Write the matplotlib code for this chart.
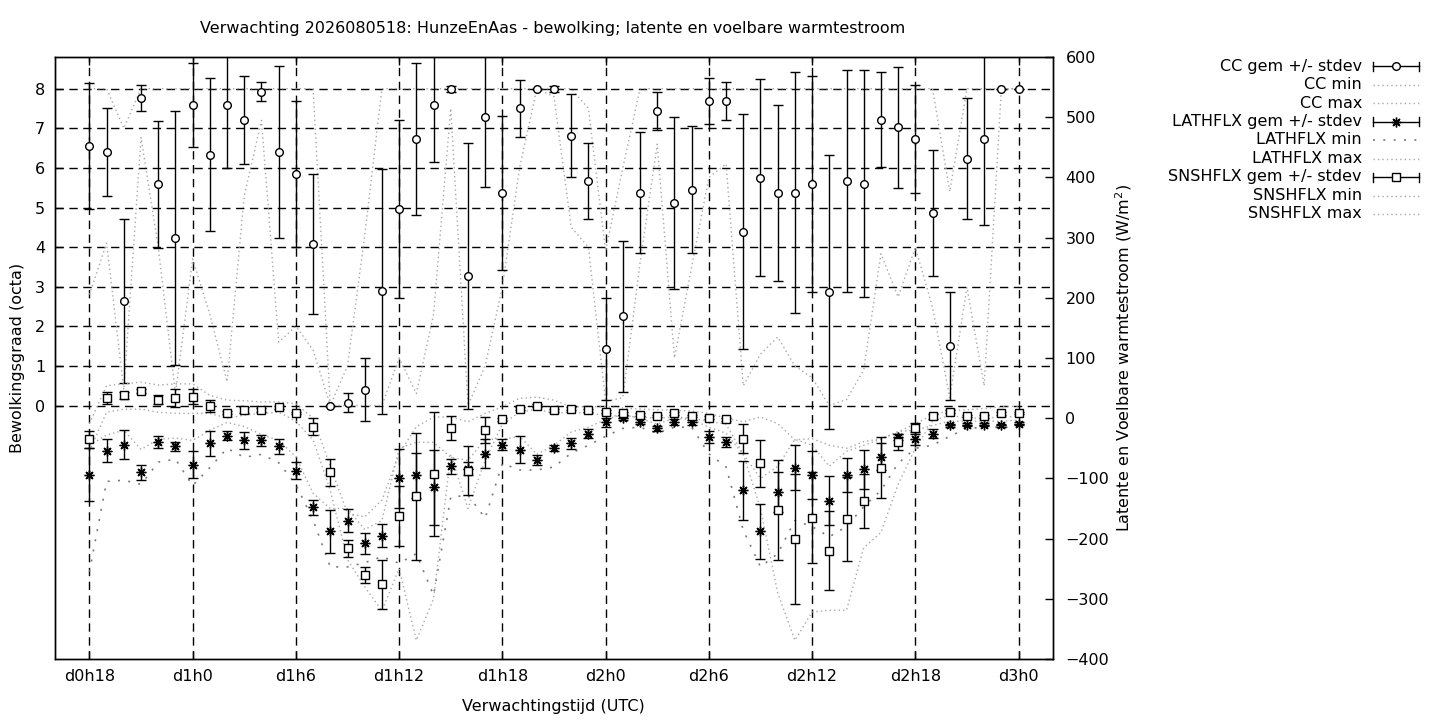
import matplotlib
matplotlib.use("Agg")
import matplotlib.pyplot as plt
from matplotlib.lines import Line2D

plt.rcParams['font.family'] = ['DejaVu Sans']

# ---------------- data ----------------
hours = list(range(18, 73))
xtick_pos = [18, 24, 30, 36, 42, 48, 54, 60, 66, 72]
xtick_labels = ["d0h18", "d1h0", "d1h6", "d1h12", "d1h18",
                "d2h0", "d2h6", "d2h12", "d2h18", "d3h0"]
cc_ticks = [0, 1, 2, 3, 4, 5, 6, 7, 8]
flux_ticks = [-400, -300, -200, -100, 0, 100, 200, 300, 400, 500, 600]

cc_mean = [6.55, 6.40, 2.64, 7.76, 5.59, 4.23,
           7.59, 6.33, 7.59, 7.21, 7.92, 6.40, 5.85, 4.08, 0.00, 0.07, 0.40, 2.88,
           4.96, 6.73, 7.59, 8.00, 3.27, 7.29,
           5.37, 7.51, 8.00, 8.00, 6.81, 5.67,
           1.43, 2.25, 5.37, 7.44, 5.12, 5.45,
           7.69, 7.69, 4.39, 5.75, 5.37, 5.37,
           5.60, 2.87, 5.67, 5.60, 7.21, 7.03,
           6.73, 4.86, 1.51, 6.23, 6.73, 8.00,
           8.00]
cc_std = [1.60, 1.12, 2.06, 0.33, 1.60, 3.20,
          1.05, 1.93, 1.59, 1.12, 0.24, 2.17, 1.85, 1.77, 0.00, 0.24, 0.79, 3.10,
          2.25, 1.93, 1.44, 0.08, 3.35, 1.77,
          1.94, 0.72, 0.00, 0.08, 1.05, 0.96,
          1.29, 1.90, 1.53, 0.48, 2.17, 1.60,
          0.57, 0.48, 2.97, 2.49, 2.23, 3.04,
          2.73, 3.46, 2.80, 2.87, 1.20, 1.53,
          1.36, 1.60, 1.36, 1.53, 2.17, 0.00,
          0.00]
cc_min = [2.8, 4.1, 0.4, 6.77, 4.0, 0.3,
          3.7, 2.3, 0.6, 5.3, 7.2, 1.6, 2.0, 1.4, 0.0, 0.0, 0.0, 0.0,
          1.2, 0.3, 2.3, 7.5, 0.0, 1.0,
          3.0, 6.0, 8.0, 7.8, 4.5, 4.0,
          0.1, 0.2, 3.6, 6.6, 1.2, 3.5,
          5.76, 6.1, 0.5, 1.3, 1.73, 1.0,
          0.7, 0.0, 0.15, 0.9, 3.83, 2.74,
          3.99, 2.48, 0.2, 2.99, 0.5, 8.0,
          8.0]
cc_max = [8, 8, 7.0, 8, 8, 8,
          8, 8, 8, 8, 8, 8, 8, 8, 0.0, 1.0, 4.3, 8,
          8, 8, 8, 8, 8, 8,
          8, 8, 8, 8, 8, 7.5,
          3.9, 6.0, 8, 8, 8, 8,
          8, 8, 8, 8, 8, 8,
          8, 8, 8, 8, 8, 8,
          8, 8, 5.4, 8, 8, 8,
          8]

lat_mean = [-94, -54, -44, -90, -39, -47,
            -77, -42, -29, -37, -37, -47, -87, -148, -188, -170, -208, -195,
            -100, -95, -115, -80, -84, -59,
            -44, -52, -69, -50, -42, -25.5,
            -7, 1, -5.5, -17, -7, -7,
            -30.5, -40, -120, -188, -122, -82,
            -95, -137, -94, -85, -64, -32,
            -34, -25.5, -12, -10.5, -10.5, -12,
            -9]
lat_std = [44, 19, 24, 12.5, 10, 7,
           23, 21, 8, 14, 9, 13, 14, 12, 36, 19, 18, 19,
           49, 38, 62, 12, 11, 24,
           9, 23, 8, 5, 9, 7,
           7, 4, 4, 4, 5, 4,
           10, 8, 49, 46, 33, 38,
           40, 41, 28, 32, 22, 5,
           11, 7, 3, 3, 3, 3,
           3]
lat_min = [-255, -105, -103, -110, -73, -68,
           -112, -82, -50, -65, -60, -74, -110, -169, -247, -247, -240, -230,
           -241, -225, -294, -131, -128, -166,
           -75, -86, -86, -81, -58, -45,
           -30, -17, -15, -25, -15, -15,
           -59, -81, -186, -247, -225, -170,
           -180, -197, -180, -147, -120, -75,
           -50, -45, -30, -17, -15, -15,
           -15]
lat_max = [-45, -28, -20, -52, -35, -33,
           -37, -20, -7, -14, -27, -37, -64, -125, -150, -150, -185, -170,
           -50, -40, -40, -65, -70, -35,
           -35, -30, -60, -45, -23, -15,
           -2, 6, 0, -10, 0, -2,
           -15, -25, -60, -100, -80, -35,
           -45, -80, -55, -45, -35, -22,
           -20, -12, -5, -5, -5, -5,
           -3]

sns_mean = [-35, 33, 38, 45, 31, 34,
            36, 21, 9.4, 14, 14, 18, 9, -14, -90, -216, -261, -276,
            -163, -130, -92, -17, -87, -20,
            -2, 16, 21, 13, 16, 13,
            11, 8, 6, 4, 8, 4,
            1, -2, -34, -75, -153, -201,
            -165, -220, -167, -138, -82, -39,
            -17, 3, 11, 4, 3, 8,
            9]
sns_std = [14, 10, 6, 3, 7, 15,
           12, 10, 3, 5, 3, 2, 2, 14, 22, 14, 13, 41,
           50, 106, 103, 20, 41, 22,
           3, 3, 2, 2, 2, 2,
           2, 2, 2, 2, 2, 2,
           2, 2, 24, 39, 83, 108,
           76, 66, 70, 45, 51, 13,
           9, 4, 2, 2, 2, 2,
           2]
sns_min = [-55, 10, 15, 15, 10, 8,
           8, 8, 0, 5, 8, 10, -5, -36, -120, -235, -280, -320,
           -250, -369, -300, -60, -150, -70,
           -10, 10, 15, 8, 10, 8,
           5, 3, 2, 0, 2, 0,
           -5, -10, -60, -150, -290, -369,
           -322, -319, -319, -215, -190, -110,
           -50, -5, 5, 0, 0, 2,
           3]
sns_max = [-9, 54, 57, 60, 55, 57,
           57, 38, 30, 29, 27, 27, 24, 0, -80, -158, -164, -136,
           -59, -14, 2, 2, -6, 8,
           19, 33, 35, 30, 19, 19,
           19, 17, 15, 14, 13, 12,
           8, 0, -6, 2, -9, -36,
           -34, -45, -50, -39, -34, -23,
           -9, 5, 13, 14, 16, 19,
           20]

legend_labels = ["CC gem +/- stdev", "CC min", "CC max",
                 "LATHFLX gem +/- stdev", "LATHFLX min", "LATHFLX max",
                 "SNSHFLX gem +/- stdev", "SNSHFLX min", "SNSHFLX max"]

title = "Verwachting 2026080518: HunzeEnAas - bewolking; latente en voelbare warmtestroom"

# ---------------- styles ----------------
W, H = 1440, 720
FS = 11.5
fine_gray = '#a8a8a8'
dark_gray = '#7a7a7a'
fine_ls = (0, (1, 2.2))
sparse_ls = (0, (1.2, 5))
grid_ls = (0, (6, 4))
STAR = (8, 2, 0)

fig = plt.figure(figsize=(W / 100, H / 100), dpi=100)
ax = fig.add_axes([55 / W, 61 / H, 998 / W, 602 / H])
ax.set_xlim(16, 74)
ax.set_ylim(-6.4, 8.8)
ax2 = ax.twinx()
ax2.set_ylim(-400, 600)

# grid
for x in xtick_pos:
    ax.axvline(x, color='black', lw=1.0, ls=grid_ls, zorder=0.5)
for y in cc_ticks:
    ax.axhline(y, color='black', lw=1.0, ls=grid_ls, zorder=0.5)

eb_kw = dict(ecolor='black', elinewidth=1.0, capsize=3.5, capthick=1.0,
             mec='black', mew=1.0, color='black', linestyle='none')

# CC
ax.errorbar(hours, cc_mean, yerr=cc_std, marker='o', ms=5.5, mfc='white', zorder=3, **eb_kw)
ax.plot(hours, cc_min, color=fine_gray, lw=1.0, ls=fine_ls, zorder=2)
ax.plot(hours, cc_max, color=fine_gray, lw=1.0, ls=fine_ls, zorder=2)

# LATHFLX
ax2.errorbar(hours, lat_mean, yerr=lat_std, marker=STAR, ms=7, mfc='black', zorder=3, **eb_kw)
ax2.plot(hours, lat_min, color=dark_gray, lw=1.2, ls=sparse_ls, zorder=2)
ax2.plot(hours, lat_max, color=fine_gray, lw=1.0, ls=fine_ls, zorder=2)

# SNSHFLX
ax2.errorbar(hours, sns_mean, yerr=sns_std, marker='s', ms=5.5, mfc='white', zorder=3, **eb_kw)
ax2.plot(hours, sns_min, color=fine_gray, lw=1.0, ls=fine_ls, zorder=2)
ax2.plot(hours, sns_max, color=fine_gray, lw=1.0, ls=fine_ls, zorder=2)

# ticks
ax.set_xticks(xtick_pos)
ax.set_xticklabels(xtick_labels)
ax.set_yticks(cc_ticks)
ax2.set_yticks(flux_ticks)
ax.tick_params(axis='x', direction='in', length=6, width=1, labelsize=FS, pad=7, top=True)
ax.tick_params(axis='y', direction='in', length=6, width=1, labelsize=FS, pad=7, right=False)
ax2.tick_params(axis='y', direction='in', length=6, width=1, labelsize=FS, pad=9)
for a in (ax, ax2):
    for s in a.spines.values():
        s.set_linewidth(1.0)
        s.set_color('black')

# texts
fig.text(553 / W, 1 - 29 / H, title, ha='center', va='center', fontsize=FS)
fig.text(553 / W, 1 - 707 / H, "Verwachtingstijd (UTC)", ha='center', va='center', fontsize=FS)
fig.text(18 / W, 1 - 358 / H, "Bewolkingsgraad (octa)", rotation=90,
         ha='center', va='center', fontsize=FS)
fig.text(1124 / W, 1 - 358 / H, "Latente en Voelbare warmtestroom (W/m$^2$)", rotation=90,
         ha='center', va='center', fontsize=FS)

# legend (manual, gnuplot style)
lg = fig.add_axes([0, 0, 1, 1])
lg.set_xlim(0, W)
lg.set_ylim(H, 0)
lg.set_axis_off()
row_y = [66 + 18.5 * i for i in range(len(legend_labels))]
x0, x1 = 1373, 1419
xm = (x0 + x1) / 2
styles = ['eb_o', 'fine', 'fine', 'eb_star', 'sparse', 'fine', 'eb_s', 'fine', 'fine']
for lab, y, st in zip(legend_labels, row_y, styles):
    lg.text(1362, y, lab, ha='right', va='center', fontsize=FS)
    if st.startswith('eb'):
        lg.add_line(Line2D([x0, x1], [y, y], color='black', lw=1.0))
        lg.add_line(Line2D([x0, x0], [y - 4.5, y + 4.5], color='black', lw=1.0))
        lg.add_line(Line2D([x1, x1], [y - 4.5, y + 4.5], color='black', lw=1.0))
        if st == 'eb_o':
            lg.plot([xm], [y], marker='o', ms=5.5, mfc='white', mec='black', mew=1.0)
        elif st == 'eb_s':
            lg.plot([xm], [y], marker='s', ms=5.5, mfc='white', mec='black', mew=1.0)
        else:
            lg.plot([xm], [y], marker=STAR, ms=7, color='black', mew=1.0)
    elif st == 'fine':
        lg.add_line(Line2D([x0, x1], [y, y], color=fine_gray, lw=1.0, ls=fine_ls))
    else:
        lg.add_line(Line2D([x0, x1], [y, y], color=dark_gray, lw=1.2, ls=sparse_ls))

fig.savefig("out.png", dpi=100)
